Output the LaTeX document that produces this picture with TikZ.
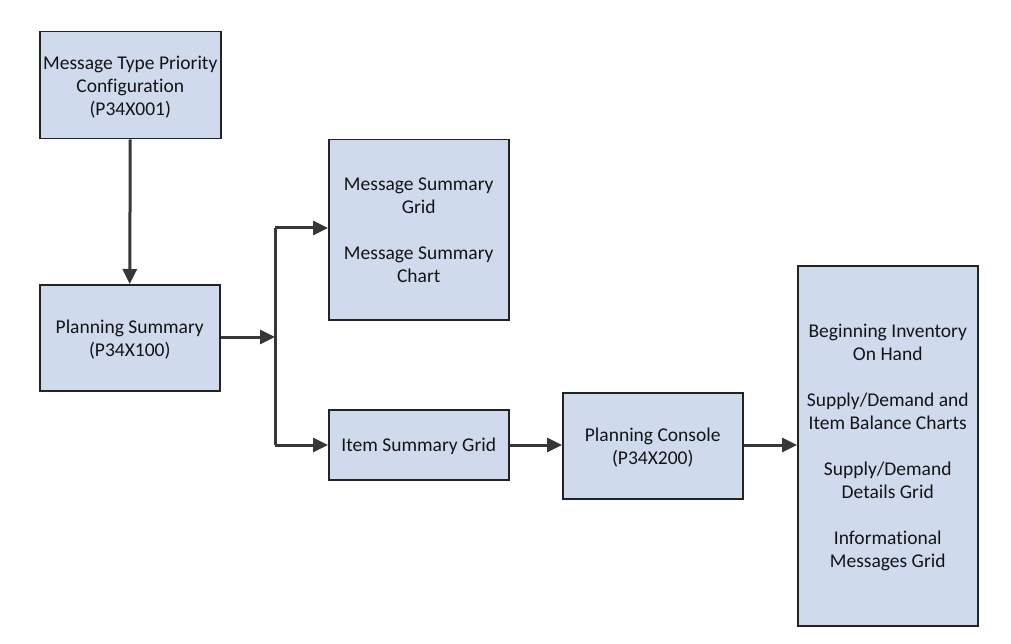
\documentclass[tikz,border=0pt]{standalone}
\usepackage{fontspec}
\setmainfont{Carlito}[Ligatures={NoCommon,NoRare,NoContextual}]
\usetikzlibrary{arrows.meta,positioning}
\definecolor{boxfill}{RGB}{207,219,237}
\definecolor{boxline}{RGB}{35,35,35}
\definecolor{arrowc}{RGB}{55,55,55}
\definecolor{txt}{RGB}{20,20,20}
\tikzset{
  blk/.style={draw=boxline, line width=1.5pt, fill=boxfill, inner sep=0pt, anchor=north west},
  lbl/.style={align=center, text=txt, font=\fontsize{19.5}{23}\selectfont, inner sep=0pt, yshift=-2pt},
  conn/.style={draw=arrowc, line width=3pt, -{Triangle[length=15pt,width=14pt]}},
  plain/.style={draw=arrowc, line width=3pt}
}
\begin{document}
\begin{tikzpicture}[x=1pt,y=-1pt]
\useasboundingbox (0,0) rectangle (1011,644);
\node[blk, minimum width=181pt, minimum height=107pt] (mtp) at (39,31) {};
\node[lbl] (mtpt) at (mtp.center) {Message Type Priority\\Configuration\\(P34X001)};
\node[blk, minimum width=180pt, minimum height=106pt] (ps) at (39,284) {};
\node[lbl] (pst) at (ps.center) {Planning Summary\\(P34X100)};
\node[blk, minimum width=180pt, minimum height=180pt] (msg) at (328,139) {};
\node[lbl, yshift=2pt] (msgt) at (msg.center) {Message Summary\\Grid\\[23pt]Message Summary\\Chart};
\node[blk, minimum width=180pt, minimum height=70pt] (isg) at (328,409) {};
\node[lbl] (isgt) at (isg.center) {Item Summary Grid};
\node[blk, minimum width=180pt, minimum height=106pt] (pc) at (562,392) {};
\node[lbl] (pct) at (pc.center) {Planning Console\\(P34X200)};
\node[blk, minimum width=180pt, minimum height=360pt] (det) at (797,265) {};
\node[lbl] (dett) at (det.center) {Beginning Inventory\\On Hand\\[23pt]Supply/Demand and\\Item Balance Charts\\[23pt]Supply/Demand\\Details Grid\\[23pt]Informational\\Messages Grid};
\coordinate (jn) at (275,337);
\coordinate (jt) at (275,228);
\coordinate (jb) at (275,445);
\draw[conn] (mtp.south) -- (ps.north);
\draw[conn] (ps.east |- jn) -- (jn);
\draw[plain] (jt) -- (jb);
\draw[conn] (jt) -- (msg.west |- jt);
\draw[conn] (jb) -- (isg.west |- jb);
\draw[conn] (isg.east |- jb) -- (pc.west |- jb);
\draw[conn] (pc.east |- jb) -- (det.west |- jb);
\end{tikzpicture}
\end{document}
